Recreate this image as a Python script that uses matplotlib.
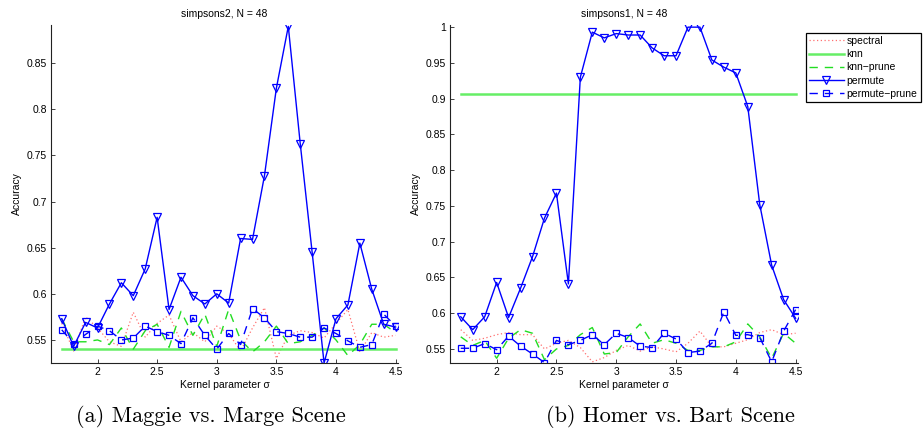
import numpy as np
import matplotlib
matplotlib.use("Agg")
import matplotlib.pyplot as plt

sigma = [1.7, 1.8, 1.9, 2.0, 2.1, 2.2, 2.3, 2.4, 2.5, 2.6, 2.7, 2.8, 2.9, 3.0, 3.1,
         3.2, 3.3, 3.4, 3.5, 3.6, 3.7, 3.8, 3.9, 4.0, 4.1, 4.2, 4.3, 4.4, 4.5]

# ---- (a) simpsons2 ----
a_spectral = [0.568, 0.538, 0.575, 0.563, 0.548, 0.543, 0.580, 0.553, 0.568, 0.577,
              0.548, 0.558, 0.548, 0.565, 0.557, 0.538, 0.563, 0.585, 0.530, 0.555,
              0.560, 0.558, 0.552, 0.568, 0.583, 0.537, 0.558, 0.553, 0.555]
a_knn = 0.540
a_knn_prune = [0.573, 0.548, 0.548, 0.550, 0.545, 0.563, 0.540, 0.560, 0.567, 0.542,
               0.581, 0.555, 0.578, 0.543, 0.583, 0.550, 0.537, 0.548, 0.565, 0.546,
               0.548, 0.555, 0.563, 0.550, 0.533, 0.545, 0.567, 0.567, 0.558]
a_permute = [0.573, 0.543, 0.569, 0.563, 0.589, 0.612, 0.598, 0.627, 0.683, 0.583,
             0.618, 0.598, 0.589, 0.600, 0.590, 0.660, 0.659, 0.728, 0.823, 0.890,
             0.763, 0.645, 0.525, 0.573, 0.588, 0.655, 0.605, 0.567, 0.564]
a_permute_prune = [0.561, 0.546, 0.556, 0.565, 0.560, 0.550, 0.552, 0.565, 0.559, 0.555,
                   0.546, 0.574, 0.555, 0.540, 0.557, 0.545, 0.584, 0.574, 0.559, 0.557,
                   0.553, 0.553, 0.563, 0.557, 0.549, 0.542, 0.545, 0.578, 0.565]

# ---- (b) simpsons1 ----
b_spectral = [0.577, 0.562, 0.565, 0.570, 0.573, 0.570, 0.570, 0.550, 0.558, 0.562,
              0.552, 0.532, 0.538, 0.548, 0.555, 0.547, 0.553, 0.550, 0.546, 0.558,
              0.575, 0.553, 0.553, 0.558, 0.563, 0.573, 0.577, 0.570, 0.572]
b_knn = 0.906
b_knn_prune = [0.567, 0.555, 0.562, 0.537, 0.565, 0.577, 0.572, 0.535, 0.550, 0.555,
               0.570, 0.580, 0.543, 0.545, 0.567, 0.585, 0.558, 0.563, 0.558, 0.548,
               0.548, 0.553, 0.553, 0.560, 0.585, 0.567, 0.537, 0.572, 0.558]
b_permute = [0.595, 0.577, 0.595, 0.643, 0.594, 0.635, 0.679, 0.733, 0.768, 0.641,
             0.930, 0.993, 0.985, 0.991, 0.989, 0.989, 0.971, 0.960, 0.960, 1.000,
             1.000, 0.954, 0.944, 0.936, 0.889, 0.752, 0.667, 0.619, 0.593]
b_permute_prune = [0.551, 0.551, 0.5575, 0.549, 0.568, 0.554, 0.543, 0.531, 0.562, 0.556,
                   0.562, 0.570, 0.556, 0.572, 0.566, 0.554, 0.552, 0.572, 0.564, 0.545,
                   0.547, 0.558, 0.602, 0.569, 0.570, 0.566, 0.532, 0.575, 0.605]

labels = ["spectral", "knn", "knn\u2212prune", "permute", "permute\u2212prune"]
titles = ["simpsons2, N = 48", "simpsons1, N = 48"]
captions = ["(a) Maggie vs. Marge Scene", "(b) Homer vs. Bart Scene"]
a_yticks = [0.55, 0.6, 0.65, 0.7, 0.75, 0.8, 0.85]
b_yticks = [0.55, 0.6, 0.65, 0.7, 0.75, 0.8, 0.85, 0.9, 0.95, 1.0]
xticks = [2, 2.5, 3, 3.5, 4, 4.5]

plt.rcParams['font.family'] = ['Liberation Sans', 'DejaVu Sans']

W, H = 923, 430
fig = plt.figure(figsize=(W / 100, H / 100), dpi=100)

def px_axes(x0, x1, y0, y1):
    return fig.add_axes([x0 / W, 1 - y1 / H, (x1 - x0) / W, (y1 - y0) / H])

ax1 = px_axes(51, 398, 25, 363)
ax2 = px_axes(450, 798, 25, 363)

RED = '#ff7070'
GREEN_SOLID = '#66ee66'
GREEN_DASH = '#22dd22'
BLUE = '#0000ff'

def draw(ax, spec, knn, kp, perm, pp, ylim, yticks, title):
    x = np.array(sigma)
    h = []
    h += ax.plot(x, spec, color=RED, ls=(0, (1, 2)), lw=0.9)
    h += ax.plot(x, np.full(len(x), knn), color=GREEN_SOLID, lw=1.8)
    h += ax.plot(x, kp, color=GREEN_DASH, ls=(0, (6, 5)), lw=1.0)
    h += ax.plot(x, perm, color=BLUE, lw=1.0, marker='v', ms=5.5,
                 mfc='none', mec=BLUE, mew=0.9)
    h += ax.plot(x, pp, color=BLUE, ls=(0, (6, 5)), lw=1.0, marker='s', ms=4.5,
                 mfc='none', mec=BLUE, mew=0.9)
    ax.set_xlim(1.61, 4.52)
    ax.set_ylim(*ylim)
    ax.set_xticks(xticks)
    ax.set_xticklabels([f"{t:g}" for t in xticks])
    ax.set_yticks(yticks)
    ax.set_yticklabels([f"{t:g}" for t in yticks])
    for s in ['top', 'right']:
        ax.spines[s].set_visible(False)
    for s in ['left', 'bottom']:
        ax.spines[s].set_linewidth(0.8)
        ax.spines[s].set_color('#222222')
    ax.tick_params(direction='in', length=3, width=0.6, labelsize=7.5, pad=3,
                   colors='#222222', labelcolor='black')
    ax.set_title(title, fontsize=7.5, pad=6)
    ax.set_xlabel("Kernel parameter \u03c3", fontsize=7.5, labelpad=2)
    ax.set_ylabel("Accuracy", fontsize=7.5, labelpad=3)
    return h

handles = draw(ax1, a_spectral, a_knn, a_knn_prune, a_permute, a_permute_prune,
               (0.525, 0.8915), a_yticks, titles[0])
draw(ax2, b_spectral, b_knn, b_knn_prune, b_permute, b_permute_prune,
     (0.5304, 1.003), b_yticks, titles[1])

leg = fig.legend(handles, labels, loc='upper left',
                 bbox_to_anchor=(806 / W, 1 - 33 / H), fontsize=7.5,
                 frameon=True, fancybox=False, framealpha=1, edgecolor='black',
                 handlelength=3.3, handletextpad=0.3, borderpad=0.3,
                 labelspacing=0.3, borderaxespad=0)
leg.get_frame().set_linewidth(0.9)

fig.text(211 / W, 1 - 417 / H, captions[0], ha='center', va='center',
         fontsize=16, family='cmr10')
fig.text(670 / W, 1 - 417 / H, captions[1], ha='center', va='center',
         fontsize=16, family='cmr10')

fig.savefig("out.png", dpi=100)
